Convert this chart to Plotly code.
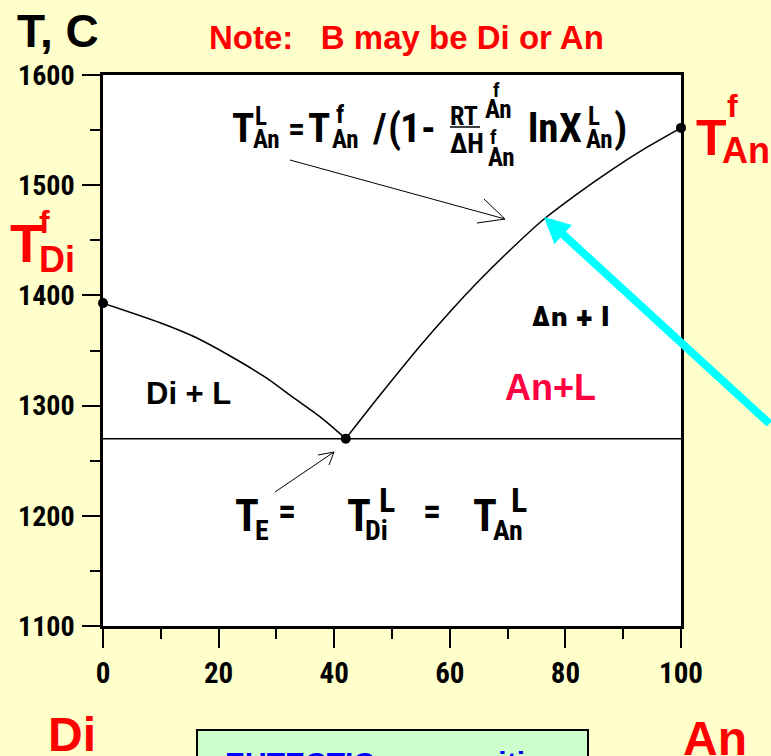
import plotly.graph_objects as go

# ---------------- data ----------------
di_x = [0, 10, 16, 22, 28, 33, 38, 42]
di_T = [1393, 1375, 1362, 1345, 1326, 1307, 1288, 1270]
an_x = [42, 48, 55, 60, 65, 70, 76, 82, 88, 94, 100]
an_T = [1270, 1310, 1355, 1385, 1413, 1439, 1468, 1492, 1514, 1534, 1552]
eut_x = [0, 100]
eut_T = [1270, 1270]
pts_x = [0, 42, 100]
pts_T = [1393, 1270, 1552]
x_ticks = [0, 20, 40, 60, 80, 100]
y_ticks = [1100, 1200, 1300, 1400, 1500, 1600]

# ---------------- layout helpers ----------------
W, H = 771, 756
PL, PR, PT, PB = 103, 681, 75, 626
NARROW = "Roboto Condensed, DejaVu Sans Condensed, Liberation Sans Narrow, Liberation Sans, sans-serif"
WIDE = "Liberation Sans, Arial, sans-serif"
BG = "#FFFFCC"


def fx(x):
    return (x - PL) / (PR - PL)


def fy(y):
    return (PB - y) / (PB - PT)


def dx(px):
    return (px - PL) / (PR - PL) * 100


def dy(py):
    return 1600 - (py - PT) / (PB - PT) * 500


annotations = []
shapes = []


def txt(s, x, y, size, color="black", family=NARROW, xanchor="left", yanchor="middle"):
    annotations.append(dict(text=s, x=fx(x), y=fy(y), xref="paper", yref="paper",
                            xanchor=xanchor, yanchor=yanchor, showarrow=False, borderpad=0,
                            font=dict(family=family, size=size, color=color, weight="bold")))


def seg(x0, y0, x1, y1, color="black", width=1):
    shapes.append(dict(type="line", xref="paper", yref="paper", x0=fx(x0), y0=fy(y0),
                       x1=fx(x1), y1=fy(y1), line=dict(color=color, width=width), layer="above"))


fig = go.Figure()
fig.add_trace(go.Scatter(x=di_x, y=di_T, mode="lines", line=dict(color="black", width=1.5, shape="spline", smoothing=0.8)))
fig.add_trace(go.Scatter(x=an_x, y=an_T, mode="lines", line=dict(color="black", width=1.5, shape="spline", smoothing=0.8)))
fig.add_trace(go.Scatter(x=eut_x, y=eut_T, mode="lines", line=dict(color="black", width=1.5)))
fig.add_trace(go.Scatter(x=pts_x, y=pts_T, mode="markers", marker=dict(color="black", size=10), cliponaxis=False))

# clipped "An + L" label inside the plot (trace text so a shape can hide its lower part)
fig.add_trace(go.Scatter(x=[dx(574)], y=[dy(322)], mode="text", text=["An + L"],
                         textfont=dict(family=NARROW, size=35, color="black", weight="bold")))
shapes.append(dict(type="rect", xref="paper", yref="paper", x0=fx(520), x1=fx(632), y0=fy(352), y1=fy(326),
                   fillcolor="white", line=dict(width=0), layer="above"))

# --- titles / labels outside plot ---
txt("T, C", 16, 31, 46, family=WIDE)
txt("Note:\u00a0\u00a0\u00a0B may be Di or An", 406, 38, 33, color="#FF0000", family=WIDE, xanchor="center")
txt("T", 9, 243, 54, color="#FF0000", family=WIDE)
txt("f", 38, 222, 32, color="#FF0000", family=WIDE)
txt("Di", 38, 259, 36, color="#FF0000", family=WIDE)
txt("T", 695, 138, 50, color="#FF0000", family=WIDE)
txt("f", 726, 106, 32, color="#FF0000", family=WIDE)
txt("An", 721, 150, 36, color="#FF0000", family=WIDE)
txt("Di", 47, 734, 48, color="#FF0000", family=WIDE)
txt("An", 682, 738, 48, color="#FF0000", family=WIDE)

# --- region labels ---
txt("Di + L", 188, 393, 31, family=WIDE, xanchor="center")
txt("An+L", 550, 387, 36, color="#FF0040", family=WIDE, xanchor="center")

# --- liquidus equation ---
BIG, SUB = 41, 25
txt("T", 231, 128, BIG)
txt("L", 254, 117, SUB)
txt("An", 252, 139, SUB)
txt("=", 287, 128, 34)
txt("T", 307, 128, BIG)
txt("f", 335, 114, SUB)
txt("An", 331, 139, SUB)
txt("/", 371, 128, BIG)
txt("(", 387, 128, BIG)
txt("1", 399, 128, BIG)
txt("-", 420, 128, BIG)
txt("RT", 449, 116, 26)
txt("f", 492, 90, 20)
txt("An", 484, 109, SUB)
seg(450, 127, 480, 127, width=1.5)
txt("\u0394H", 449, 144, 27)
txt("f", 489, 137, 20)
txt("An", 487, 157, SUB)
txt("ln", 527, 128, BIG)
txt("X", 558, 128, BIG)
txt("L", 587, 117, SUB)
txt("An", 585, 139, SUB)
txt(")", 613, 128, BIG)

# --- eutectic equation ---
txt("T", 234, 516, 44)
txt("E", 254, 530, 28)
txt("=", 277, 512, 36)
txt("T", 346, 516, 44)
txt("L", 378, 500, 34)
txt("Di", 364, 530, 28)
txt("=", 422, 512, 36)
txt("T", 472, 516, 44)
txt("L", 510, 500, 34)
txt("An", 492, 530, 28)

# --- arrows ---
seg(290, 160, 505, 219)
seg(505, 219, 484, 199)
seg(505, 219, 477, 223)
seg(275, 492, 334, 452)
seg(334, 452, 318, 455)
seg(334, 452, 329, 465)
annotations.append(dict(x=fx(544), y=fy(217), xref="paper", yref="paper", text="", showarrow=True,
                        ax=260, ay=208, axref="pixel", ayref="pixel",
                        arrowcolor="#00FFFF", arrowwidth=8, arrowhead=2, arrowsize=0.65, standoff=0))

# --- EUTECTIC composition box (cut by the page edge) ---
shapes.append(dict(type="rect", xref="paper", yref="paper", x0=fx(197), x1=fx(588), y0=fy(800), y1=fy(730),
                   fillcolor="#CCFFCC", line=dict(color="black", width=2), layer="above"))
txt("EUTECTIC composition", 224, 745, 30, color="#0000FF", family=WIDE, yanchor="top")

fig.update_layout(
    width=W, height=H,
    margin=dict(l=PL, r=W - PR, t=PT, b=H - PB, autoexpand=False),
    paper_bgcolor=BG, plot_bgcolor="white",
    showlegend=False,
    annotations=annotations, shapes=shapes,
)
fig.update_xaxes(range=[0, 100], tickvals=x_ticks, showgrid=False, zeroline=False,
                 showline=True, linecolor="black", linewidth=2.5, mirror=True,
                 ticks="outside", ticklen=19, tickwidth=2, tickcolor="black",
                 minor=dict(ticks="outside", dtick=10, ticklen=10, tickwidth=2, tickcolor="black"),
                 tickfont=dict(family=NARROW, size=29, color="black", weight="bold"),
                 ticklabelstandoff=0)
fig.update_yaxes(range=[1100, 1600], tickvals=y_ticks, showgrid=False, zeroline=False,
                 showline=True, linecolor="black", linewidth=2.5, mirror=True,
                 ticks="outside", ticklen=18, tickwidth=2, tickcolor="black",
                 minor=dict(ticks="outside", dtick=50, ticklen=10, tickwidth=2, tickcolor="black"),
                 tickfont=dict(family=NARROW, size=28, color="black", weight="bold"),
                 ticklabelstandoff=2)

fig.write_html("out.html")
